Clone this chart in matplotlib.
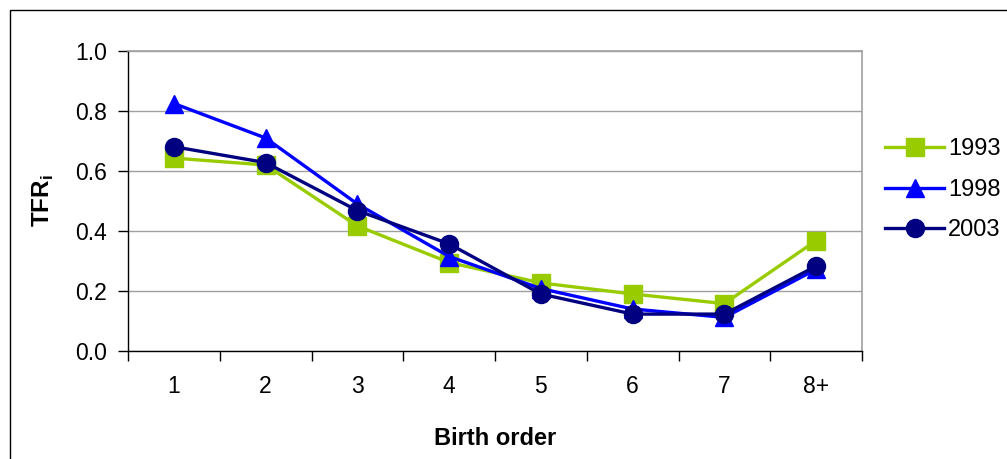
import numpy as np
import matplotlib.pyplot as plt
from matplotlib.ticker import FixedLocator, NullFormatter

plt.rcParams['font.family'] = ['Liberation Sans', 'DejaVu Sans']

# Order of birth and TFR by birth order for each survey year
orden = ['1', '2', '3', '4', '5', '6', '7', '8+']
tfr_1993 = [0.643, 0.620, 0.417, 0.295, 0.227, 0.190, 0.158, 0.368]
tfr_1998 = [0.825, 0.710, 0.490, 0.315, 0.208, 0.140, 0.112, 0.272]
tfr_2003 = [0.681, 0.628, 0.468, 0.357, 0.190, 0.123, 0.123, 0.283]

fig = plt.figure(figsize=(10.07, 4.59), dpi=100)
ax = fig.add_axes([128 / 1007, 1 - 351 / 459, (862 - 128) / 1007, 300 / 459])

x = np.arange(len(orden))
ax.plot(x, tfr_1993, color='#99CC00', lw=2.4, marker='s', ms=12.5, label='1993')
ax.plot(x, tfr_1998, color='#0000FF', lw=2.4, marker='^', ms=13, label='1998')
ax.plot(x, tfr_2003, color='#000080', lw=2.4, marker='o', ms=13, label='2003')

ax.set_xlim(-0.5, len(orden) - 0.5)
ax.set_ylim(0, 1.0)
ax.set_yticks(np.arange(0, 1.01, 0.2))
ax.set_yticklabels(['%.1f' % v for v in np.arange(0, 1.01, 0.2)])
ax.set_xticks(x)
ax.set_xticklabels(orden)
ax.xaxis.set_minor_locator(FixedLocator(np.arange(-0.5, len(orden), 1)))
ax.xaxis.set_minor_formatter(NullFormatter())
ax.tick_params(axis='x', which='major', length=0, pad=17, labelsize=16.5)
ax.tick_params(axis='x', which='minor', length=7, width=1, direction='out')
ax.tick_params(axis='y', length=7, width=1, direction='out', pad=8, labelsize=16.5)

ax.grid(axis='y', color='#A0A0A0', lw=1)
ax.set_axisbelow(True)
for s in ['top', 'right']:
    ax.spines[s].set_color('#A0A0A0')
    ax.spines[s].set_linewidth(1.2)
for s in ['left', 'bottom']:
    ax.spines[s].set_color('black')
    ax.spines[s].set_linewidth(1)

ax.set_ylabel('TFR$_\\mathregular{i}$', fontsize=17.5, fontweight='bold')
ax.yaxis.set_label_coords(-0.098, 0.5)
ax.set_xlabel('Birth order', fontsize=17, fontweight='bold')
ax.xaxis.set_label_coords(0.5, -0.253)

leg = fig.legend(loc='upper left', bbox_to_anchor=(876 / 1007, 1 - 129 / 459),
                 frameon=False, fontsize=17, handlelength=2.5,
                 labelspacing=0.78, handletextpad=0.15, borderaxespad=0)

# outer chart frame
fig.add_artist(plt.Rectangle((10 / 1007, -0.01), 1.1, 1 - 10 / 459 + 0.01,
                             transform=fig.transFigure, fill=False,
                             edgecolor='black', lw=1))

fig.savefig('out.png', dpi=100)
